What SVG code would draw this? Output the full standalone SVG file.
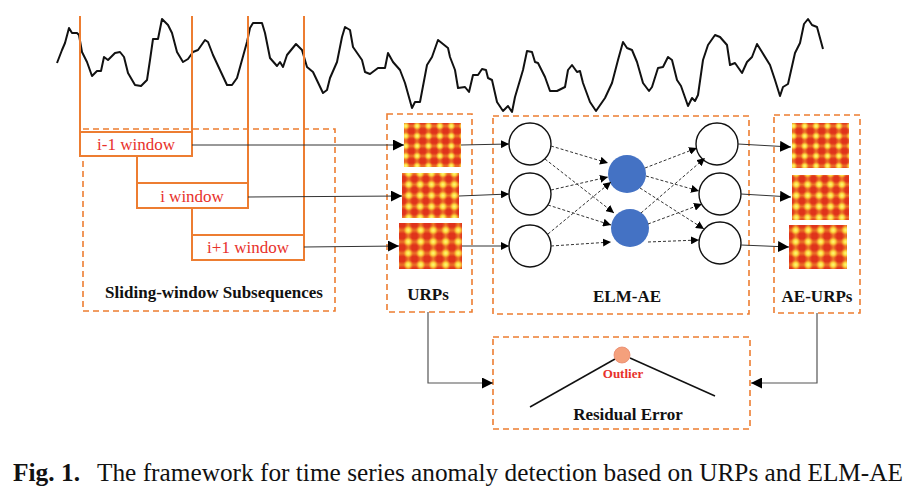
<svg xmlns="http://www.w3.org/2000/svg" width="924" height="496" viewBox="0 0 924 496">
<style>
.dash{fill:none;stroke:#ed7d31;stroke-width:1.6;stroke-dasharray:6 4}
.win{fill:#fff;stroke:#ed7d31;stroke-width:2}
.vl{stroke:#ed7d31;stroke-width:2}
.wt{font-family:"Liberation Serif","Times New Roman",serif;font-size:17px;fill:#e8312b;text-anchor:middle}
.lb{font-family:"Liberation Serif","Times New Roman",serif;font-size:17px;font-weight:bold;fill:#111;text-anchor:middle}
.cap{font-family:"Liberation Serif","Times New Roman",serif;font-size:25px;fill:#111}
.conn{stroke:#333;stroke-width:1;fill:none}
.gconn{stroke:#555;stroke-width:1.2;fill:none}
.dconn{stroke:#333;stroke-width:1;stroke-dasharray:3 2;fill:none}
.node{fill:#fff;stroke:#111;stroke-width:1.4}
.hid{fill:#4472c4}
</style>
<defs>
<marker id="ah" viewBox="0 0 10 10" refX="10" refY="5" markerWidth="8" markerHeight="8" markerUnits="userSpaceOnUse" orient="auto"><path d="M0,0 L10,5 L0,10 z" fill="#000"/></marker>
<marker id="ahb" viewBox="0 0 10 10" refX="10" refY="5" markerWidth="11" markerHeight="11" markerUnits="userSpaceOnUse" orient="auto"><path d="M0,0 L10,5 L0,10 z" fill="#000"/></marker>
<radialGradient id="blob"><stop offset="0" stop-color="#fffc80"/><stop offset="0.45" stop-color="#fcd63c"/><stop offset="1" stop-color="#f08a2a" stop-opacity="0"/></radialGradient>
<linearGradient id="bv" x1="0" y1="0" x2="1" y2="0"><stop offset="0" stop-color="#f59a30" stop-opacity="0"/><stop offset="0.5" stop-color="#f7a832" stop-opacity="0.6"/><stop offset="1" stop-color="#f59a30" stop-opacity="0"/></linearGradient>
<linearGradient id="bh" x1="0" y1="0" x2="0" y2="1"><stop offset="0" stop-color="#f59a30" stop-opacity="0"/><stop offset="0.5" stop-color="#f7a832" stop-opacity="0.55"/><stop offset="1" stop-color="#f59a30" stop-opacity="0"/></linearGradient>
<pattern id="pa" width="11.4" height="10" patternUnits="userSpaceOnUse" x="1" y="1"><rect width="11.4" height="10" fill="#df321b"/><rect x="2.2" width="7" height="10" fill="url(#bv)"/><rect y="2" width="11.4" height="6" fill="url(#bh)"/><circle cx="5.7" cy="5" r="4.4" fill="url(#blob)"/></pattern>
<pattern id="pb" width="11.4" height="11" patternUnits="userSpaceOnUse" x="4" y="3"><rect width="11.4" height="11" fill="#df321b"/><rect x="2" width="7.4" height="11" fill="url(#bv)"/><rect y="2.2" width="11.4" height="6.6" fill="url(#bh)"/><circle cx="5.7" cy="5.5" r="5" fill="url(#blob)"/></pattern>
<pattern id="pc" width="12.5" height="11.5" patternUnits="userSpaceOnUse" x="2" y="6"><rect width="12.5" height="11.5" fill="#df321b"/><rect x="2.5" width="7.5" height="11.5" fill="url(#bv)"/><rect y="2.3" width="12.5" height="7" fill="url(#bh)"/><circle cx="6.2" cy="5.7" r="5.2" fill="url(#blob)"/></pattern>
</defs>
<rect width="924" height="496" fill="#fff"/>

<g id="timeseries">
<polyline fill="none" stroke="#111" stroke-width="2" stroke-linejoin="round" points="57,63 62,50 65,43 69,28 72,33 77,33 79,35 82,52 87,62 92,76 97,71 101,71 104,57 108,60 115,53 120,52 124,57 128,73 135,85 141,86 147,80 150,60 153,39 158,39 162,19 168,25 172,33 177,52 183,62 188,59 193,52 198,50 205,40 208,42 213,55 220,70 227,85 232,85 237,78 242,60 247,42 250,28 253,23 262,23 265,33 270,58 277,66 280,62 283,67 287,55 296,44 302,50 307,67 313,72 323,93 327,90 330,78 337,62 342,37 345,27 350,30 353,47 362,60 365,72 370,74 378,68 385,68 388,53 393,62 400,70 405,83 412,108 415,102 420,102 427,65 432,57 438,40 448,48 450,57 455,70 458,88 465,87 469,92 473,75 478,75 482,69 486,70 488,78 492,80 497,102 503,111 508,106 512,112 515,97 523,70 527,51 532,52 535,62 538,63 545,77 550,91 557,91 565,87 568,70 572,65 577,72 580,71 583,83 590,102 596,111 605,98 612,83 618,60 623,42 627,48 632,50 637,62 643,83 649,91 652,87 658,68 663,67 668,57 672,60 677,80 681,86 688,106 692,98 695,101 698,95 703,60 708,45 715,35 720,37 727,45 730,65 735,63 742,73 747,62 752,57 757,44 762,52 770,65 775,80 780,96 783,87 788,84 795,53 800,43 804,24 808,19 812,25 817,27 823,49"/>
</g>

<g id="sliding-window">
<rect class="dash" x="83" y="129" width="252" height="182"/>
<line class="vl" x1="80" y1="16" x2="80" y2="132"/>
<line class="vl" x1="192" y1="16" x2="192" y2="132"/>
<line class="vl" x1="248" y1="16" x2="248" y2="183"/>
<line class="vl" x1="304" y1="16" x2="304" y2="235"/>
<line class="vl" x1="137" y1="156" x2="137" y2="183"/>
<line class="vl" x1="192" y1="208" x2="192" y2="235"/>
<text class="lb" x="214" y="298" font-size="16">Sliding-window Subsequences</text>
</g>
<g id="win-i-1"><rect class="win" x="80" y="132" width="112" height="24"/><text class="wt" x="136" y="150">i-1 window</text></g>
<g id="win-i"><rect class="win" x="137" y="183" width="111" height="25"/><text class="wt" x="192" y="202">i window</text></g>
<g id="win-i+1"><rect class="win" x="192" y="235" width="112" height="25"/><text class="wt" x="248" y="253">i+1 window</text></g>

<g id="urps">
<rect class="dash" x="387" y="114" width="85" height="198"/>
<rect x="404" y="123" width="57" height="44" fill="url(#pa)"/>
<rect x="402" y="173" width="57" height="45" fill="url(#pb)"/>
<rect x="399" y="223" width="63" height="46" fill="url(#pc)"/>
<text class="lb" x="428" y="300">URPs</text>
</g>

<g id="elm-ae">
<rect class="dash" x="493" y="116" width="256" height="198"/>
<text class="lb" x="627" y="302">ELM-AE</text>
</g>
<g id="in1"><circle class="node" cx="530" cy="144" r="21"/></g>
<g id="in2"><circle class="node" cx="530" cy="194" r="21"/></g>
<g id="in3"><circle class="node" cx="530" cy="246" r="21"/></g>
<g id="h1"><circle class="hid" cx="627" cy="174" r="19"/></g>
<g id="h2"><circle class="hid" cx="630" cy="228" r="19"/></g>
<g id="out1"><circle class="node" cx="717" cy="144" r="21"/></g>
<g id="out2"><circle class="node" cx="720" cy="194" r="21"/></g>
<g id="out3"><circle class="node" cx="720" cy="243" r="21"/></g>

<g id="ae-urps">
<rect class="dash" x="774" y="115" width="86" height="198"/>
<rect x="792" y="123" width="57" height="45" fill="url(#pa)"/>
<rect x="792" y="175" width="57" height="45" fill="url(#pb)"/>
<rect x="789" y="225" width="58" height="44" fill="url(#pc)"/>
<text class="lb" x="817" y="302">AE-URPs</text>
</g>

<g id="residual">
<rect class="dash" x="493" y="337" width="257" height="92"/>
<line x1="530" y1="407" x2="615" y2="359" stroke="#111" stroke-width="1.5"/>
<line x1="630" y1="358" x2="715" y2="396" stroke="#111" stroke-width="1.5"/>
<circle cx="622" cy="355" r="8" fill="#f4a07c" stroke="#e8866a" stroke-width="0.8"/>
<text x="623" y="378" font-family="Liberation Serif,Times New Roman,serif" font-size="13" font-weight="bold" fill="#e8312b" text-anchor="middle">Outlier</text>
<text class="lb" x="628" y="420">Residual Error</text>
</g>

<g id="connectors">
<line class="conn" x1="192" y1="145" x2="404" y2="145" marker-end="url(#ahb)"/>
<line class="conn" x1="248" y1="197" x2="402" y2="196" marker-end="url(#ahb)"/>
<line class="conn" x1="304" y1="247" x2="399" y2="246" marker-end="url(#ahb)"/>
<line class="conn" x1="461" y1="145" x2="509" y2="144" marker-end="url(#ah)"/>
<line class="conn" x1="459" y1="196" x2="509" y2="194" marker-end="url(#ah)"/>
<line class="conn" x1="462" y1="246" x2="509" y2="246" marker-end="url(#ah)"/>
<line class="dconn" x1="551" y1="146" x2="608" y2="163" marker-end="url(#ah)"/>
<line class="dconn" x1="545" y1="159" x2="614" y2="213" marker-end="url(#ah)"/>
<line class="dconn" x1="551" y1="190" x2="608" y2="177" marker-end="url(#ah)"/>
<line class="dconn" x1="548" y1="205" x2="611" y2="225" marker-end="url(#ah)"/>
<line class="dconn" x1="548" y1="234" x2="611" y2="182" marker-end="url(#ah)"/>
<line class="dconn" x1="551" y1="246" x2="611" y2="242" marker-end="url(#ah)"/>
<line class="dconn" x1="645" y1="168" x2="697" y2="148" marker-end="url(#ah)"/>
<line class="dconn" x1="646" y1="176" x2="699" y2="191" marker-end="url(#ah)"/>
<line class="dconn" x1="640" y1="188" x2="704" y2="229" marker-end="url(#ah)"/>
<line class="dconn" x1="641" y1="213" x2="705" y2="158" marker-end="url(#ah)"/>
<line class="dconn" x1="648" y1="224" x2="702" y2="204" marker-end="url(#ah)"/>
<line class="dconn" x1="648" y1="242" x2="699" y2="240" marker-end="url(#ah)"/>
<line class="conn" x1="738" y1="144" x2="791" y2="147" marker-end="url(#ahb)"/>
<line class="conn" x1="741" y1="194" x2="791" y2="197" marker-end="url(#ahb)"/>
<line class="conn" x1="741" y1="245" x2="789" y2="247" marker-end="url(#ahb)"/>
<polyline class="gconn" points="428,312 428,383 493,383" marker-end="url(#ahb)"/>
<polyline class="gconn" points="817,313 817,383 751,383" marker-end="url(#ahb)"/>
</g>

<g id="caption">
<text class="cap" x="13" y="481" font-weight="bold" textLength="67" lengthAdjust="spacingAndGlyphs">Fig. 1.</text>
<text class="cap" x="97" y="481" textLength="806" lengthAdjust="spacingAndGlyphs">The framework for time series anomaly detection based on URPs and ELM-AE</text>
</g>
</svg>
